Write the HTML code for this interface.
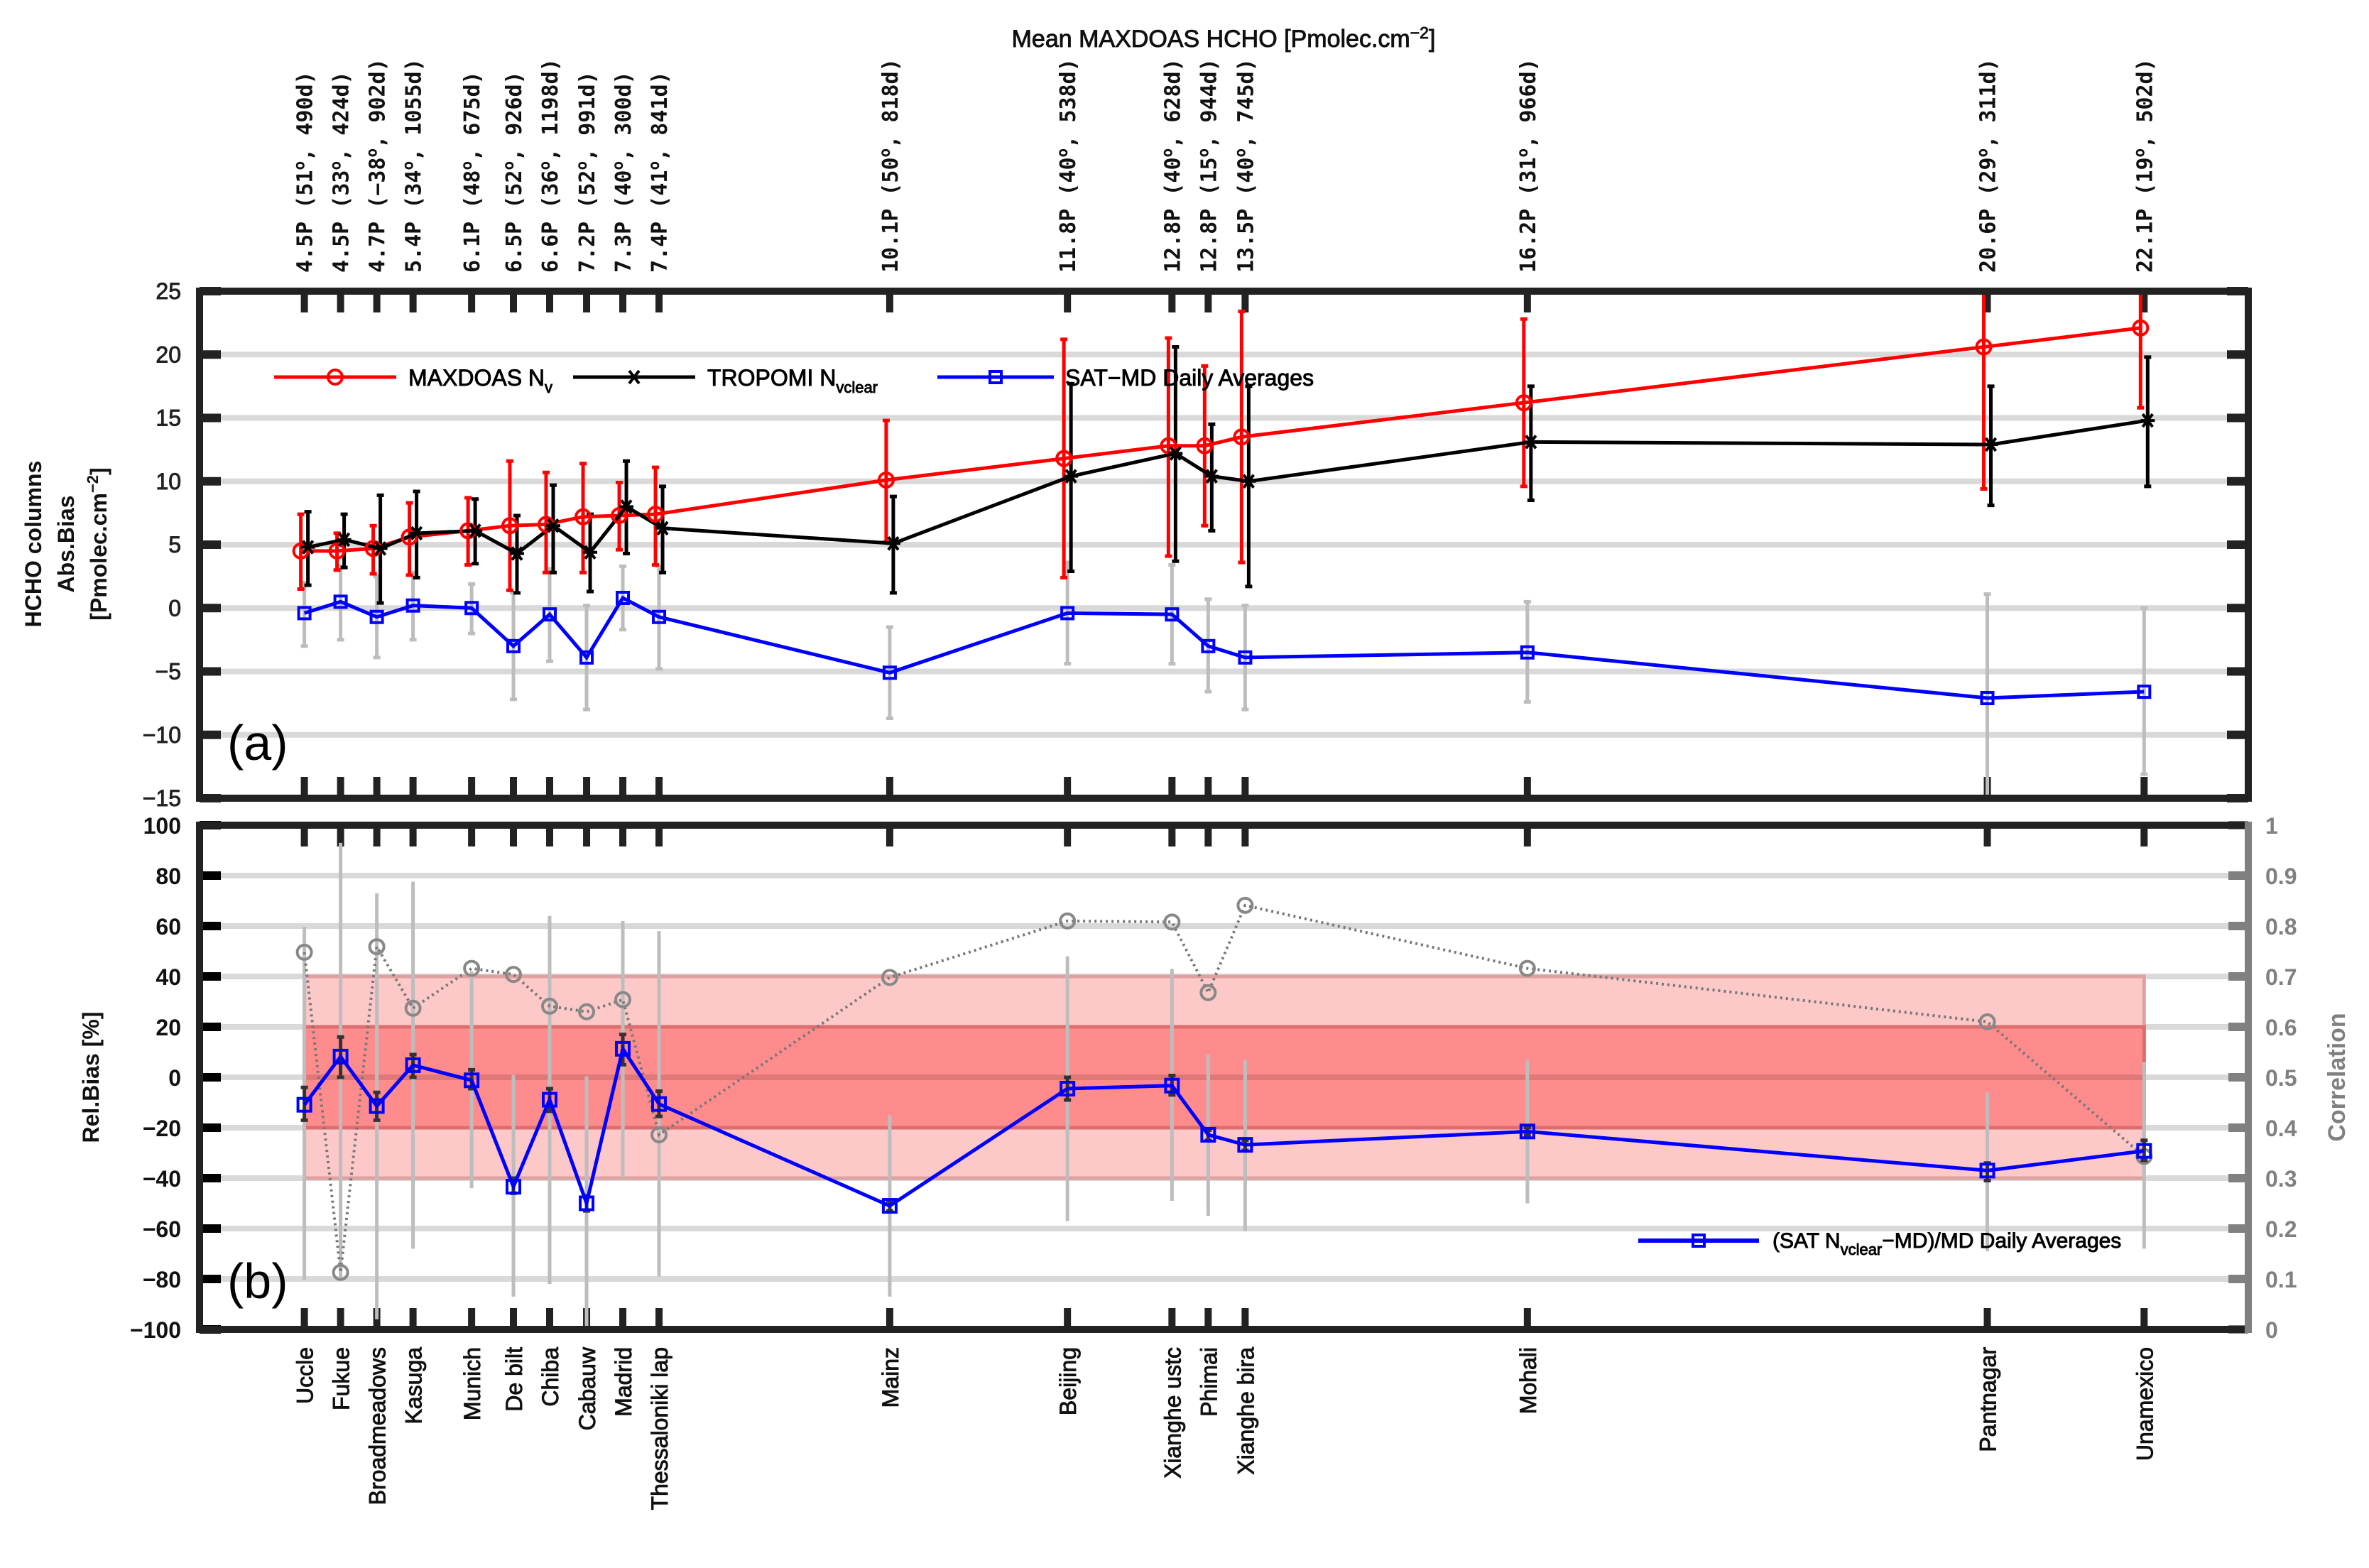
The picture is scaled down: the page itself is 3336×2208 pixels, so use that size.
<!DOCTYPE html>
<html><head><meta charset="utf-8"><style>
html,body{margin:0;padding:0;background:#fff;}
svg{display:block;}
text{font-family:"Liberation Sans","DejaVu Sans",sans-serif;}
.mono{font-family:"DejaVu Sans Mono","Liberation Mono",monospace;}
.thick{stroke:currentColor;stroke-width:0.9px;}
</style></head><body>
<svg id="chart" xmlns="http://www.w3.org/2000/svg" width="3336" height="2208" viewBox="0 0 3336 2208">
<defs>
<clipPath id="clipA"><rect x="281" y="410" width="2885" height="714"/></clipPath>
<clipPath id="clipB"><rect x="281" y="1162" width="2885" height="710"/></clipPath>
</defs>
<rect x="0" y="0" width="3336" height="2208" fill="#fff"/>
<g id="gA"></g>
<g id="gB"></g>
<g id="gT"></g>
</svg>
<script>
const stations=["Uccle","Fukue","Broadmeadows","Kasuga","Munich","De bilt","Chiba","Cabauw","Madrid","Thessaloniki lap","Mainz","Beijing","Xianghe ustc","Phimai","Xianghe bira","Mohali","Pantnagar","Unamexico"];
const meanMD=[4.5,4.5,4.7,5.4,6.1,6.5,6.6,7.2,7.3,7.4,10.1,11.8,12.8,12.8,13.5,16.2,20.6,22.1];
const lat=["51","33","\u221238","34","48","52","36","52","40","41","50","40","40","15","40","31","29","19"];
const days=["490","424","902","1055","675","926","1198","991","300","841","818","538","628","944","745","966","311","502"];
const mdVal=[4.5,4.5,4.7,5.6,6.1,6.5,6.6,7.2,7.3,7.4,10.1,11.8,12.8,12.8,13.5,16.2,20.6,22.1];
const mdLo=[1.5,3.0,2.7,2.6,3.4,1.4,2.8,2.8,4.6,3.4,5.2,2.4,4.1,6.5,3.6,9.6,9.4,15.8];
const mdHi=[7.4,5.9,6.5,8.3,8.7,11.6,10.7,11.4,9.9,11.1,14.8,21.2,21.3,19.1,23.4,22.8,31.8,28.4];
const trVal=[4.8,5.4,4.7,5.9,6.1,4.3,6.5,4.4,8.0,6.3,5.1,10.4,12.2,10.4,10.0,13.1,12.9,14.8];
const trLo=[1.8,3.2,0.4,2.4,3.5,1.2,2.8,1.3,4.3,2.8,1.2,2.9,3.7,6.1,1.7,8.5,8.1,9.6];
const trHi=[7.6,7.4,8.9,9.2,8.6,7.3,9.7,7.4,11.6,9.6,8.8,17.7,20.6,14.5,17.5,17.5,17.5,19.8];
const absBias=[-0.4,0.5,-0.7,0.2,0.0,-3.0,-0.5,-3.9,0.8,-0.7,-5.1,-0.4,-0.5,-3.0,-3.9,-3.5,-7.1,-6.6];
const abLo=[-3.0,-2.5,-3.9,-2.5,-2.0,-7.2,-4.2,-8.0,-1.7,-4.8,-8.7,-4.4,-4.4,-6.6,-8.0,-7.4,-14.9,-13.1];
const abHi=[2.0,3.3,2.5,2.8,1.9,1.2,3.1,0.2,3.3,3.3,-1.5,3.6,3.4,0.7,0.2,0.5,1.1,0.0];
const relBias=[-10.9,8.2,-11.4,4.8,-1.2,-43.4,-8.9,-50,11.3,-10.6,-51,-4.5,-3.3,-22.8,-26.8,-21.5,-37,-29.2];
const relLo=[-17,0,-17,0,-4.5,-46,-13.5,-53,5,-15.5,-53,-9,-7,-25,-29,-23,-41,-33];
const relHi=[-4,16,-6,9,3,-40,-4.5,-47,17,-5.5,-49,0,0.7,-21,-25,-20,-34,-25];
const relErrLo=[-80.5,-80,-96,-68,-44,-87,-82,-100,-40,-79,-87,-57,-49,-55,-61,-50,-69,-68];
const relErrHi=[59.7,93,73,77.6,42,1,64,0.4,62,58,-15,48,43,9,7,7,-6,6];
const corr=[0.748,0.113,0.759,0.637,0.716,0.704,0.641,0.63,0.654,0.386,0.698,0.81,0.808,0.668,0.841,0.716,0.61,0.343];
const ticksA=[25,20,15,10,5,0,-5,-10,-15];
const ticksB=[100,80,60,40,20,0,-20,-40,-60,-80,-100];
const ticksC=[1,0.9,0.8,0.7,0.6,0.5,0.4,0.3,0.2,0.1,0];
const tickLabelsC=["1","0.9","0.8","0.7","0.6","0.5","0.4","0.3","0.2","0.1","0"];

const NS="http://www.w3.org/2000/svg";
const L=281,R=3166,AT=410,AB=1124,BT=1162,BB=1872;
function xScale(v){return 428.6+(v-4.5)*147.2;}
function ya(v){return AT+(25-v)*(AB-AT)/40;}
function yb(v){return BT+(100-v)*(BB-BT)/200;}
function yc(c){return yb(c*200-100);}
const px=[];
meanMD.forEach((v,i)=>{let p=xScale(v);if(i>0)p=Math.max(p,px[i-1]+51);px.push(p);});

function mk(tag,attrs,parent){const e=document.createElementNS(NS,tag);for(const k in attrs)e.setAttribute(k,attrs[k]);parent.appendChild(e);return e;}
const gA=document.getElementById('gA'),gB=document.getElementById('gB'),gT=document.getElementById('gT');

// ---------- panel A ----------
ticksA.forEach(t=>{
  if(t<25&&t>-15){const g=mk('line',{x1:L,x2:R,y1:ya(t),y2:ya(t),stroke:'#d9d9d9','stroke-width':8},gA);
  
  }
  const tk=mk('path',{d:`M${L} ${ya(t)}h30M${R} ${ya(t)}h-30`,stroke:'#222','stroke-width':12},gA);
  
  
  const tl=mk('text',{x:255,y:ya(t)+11,'text-anchor':'end','font-size':32,fill:'#222',class:'thick',color:'#222'},gA);
  tl.textContent=t<0?'\u2212'+(-t):String(t);
  
  
});
px.forEach(x=>{
  const t=mk('path',{d:`M${x} ${AT}v30M${x} ${AB}v-30M${x} ${BT}v30M${x} ${BB}v-30`,stroke:'#222','stroke-width':10},gA);
  
  
});
const cA=mk('g',{'clip-path':'url(#clipA)'},gA);


function errbar(parent,x,y1,y2,color,w,cap,name){
  const e=mk('path',{d:`M${x} ${y1}V${y2}`+(cap?`M${x-cap} ${y1}h${2*cap}M${x-cap} ${y2}h${2*cap}`:''),stroke:color,'stroke-width':w,fill:'none'},parent);
  
  
}
px.forEach((x,i)=>errbar(cA,x,ya(abLo[i]),ya(abHi[i]),'#bdbdbd',5,5,'abs-bias-error'));
px.forEach((x,i)=>errbar(cA,x-5,ya(mdLo[i]),ya(mdHi[i]),'#f00',5,5,'maxdoas-error'));
px.forEach((x,i)=>errbar(cA,x+5,ya(trLo[i]),ya(trHi[i]),'#000',5,5,'tropomi-error'));
const redLine=mk('polyline',{points:px.map((x,i)=>`${x-5},${ya(mdVal[i])}`).join(' '),fill:'none',stroke:'#f00','stroke-width':5},cA);


const blkLine=mk('polyline',{points:px.map((x,i)=>`${x+5},${ya(trVal[i])}`).join(' '),fill:'none',stroke:'#000','stroke-width':5},cA);


const bluLine=mk('polyline',{points:px.map((x,i)=>`${x},${ya(absBias[i])}`).join(' '),fill:'none',stroke:'#00f','stroke-width':5},cA);


function star(parent,x,y,name){
  const s=mk('path',{d:`M${x-10} ${y}h20M${x-7} ${y-9}l14 18M${x+7} ${y-9}l-14 18`,stroke:'#000','stroke-width':4},parent);
  
  
}
px.forEach((x,i)=>{
  const c=mk('circle',{cx:x-5,cy:ya(mdVal[i]),r:10,fill:'none',stroke:'#f00','stroke-width':4},cA);
  
  
  star(cA,x+5,ya(trVal[i]),'tropomi-point');
  const q=mk('rect',{x:x-8,y:ya(absBias[i])-8,width:16,height:16,fill:'none',stroke:'#00f','stroke-width':4},cA);
  
  
});
const boxA=mk('rect',{x:L,y:AT,width:R-L,height:AB-AT,fill:'none',stroke:'#222','stroke-width':10},gA);



const lgA=mk('g',{},gA);


mk('line',{x1:386,x2:558,y1:531,y2:531,stroke:'#f00','stroke-width':5},lgA);
mk('circle',{cx:472,cy:531,r:10,fill:'none',stroke:'#f00','stroke-width':4},lgA);
const t1=mk('text',{x:575,y:543,'font-size':32,fill:'#000',class:'thick',color:'#000'},lgA);
t1.innerHTML='MAXDOAS N<tspan font-size="22" dy="10">v</tspan>';
mk('line',{x1:807,x2:979,y1:531,y2:531,stroke:'#000','stroke-width':5},lgA);
star(lgA,893,531,'legend-tropomi-marker');
const t2=mk('text',{x:996,y:543,'font-size':32,fill:'#000',class:'thick',color:'#000'},lgA);
t2.innerHTML='TROPOMI N<tspan font-size="22" dy="10">vclear</tspan>';
mk('line',{x1:1320,x2:1484,y1:531,y2:531,stroke:'#00f','stroke-width':5},lgA);
mk('rect',{x:1394,y:523,width:16,height:16,fill:'none',stroke:'#00f','stroke-width':4},lgA);
const t3=mk('text',{x:1500,y:543,'font-size':32,fill:'#000',class:'thick',color:'#000'},lgA);
t3.textContent='SAT\u2212MD Daily Averages';
const la=mk('text',{x:320,y:1070,'font-size':70,fill:'#000'},gA);
la.textContent='(a)';



// ---------- panel B ----------
const cB=mk('g',{'clip-path':'url(#clipB)'},gB);


ticksB.forEach(t=>{
  if(t<100&&t>-100){const g=mk('line',{x1:L,x2:R,y1:yb(t),y2:yb(t),stroke:'#d9d9d9','stroke-width':8},cB);
  
  }
  const tk=mk('path',{d:`M${L} ${yb(t)}h30`,stroke:'#000','stroke-width':12},gB);
  
  
  const tl=mk('text',{x:255,y:yb(t)+12,'text-anchor':'end','font-size':32,'font-weight':'bold',fill:'#111'},gB);
  tl.textContent=t<0?'\u2212'+(-t):String(t);
  
  
});
ticksC.forEach((c,i)=>{
  const tk=mk('path',{d:`M${R} ${yc(c)}h-28`,stroke:'#808080','stroke-width':12},gB);
  
  
  const tl=mk('text',{x:3190,y:yc(c)+12,'font-size':32,'font-weight':'bold',fill:'#808080'},gB);
  tl.textContent=tickLabelsC[i];
  
  
});
const x0=px[0],x1=px[px.length-1];
const bL=mk('rect',{x:x0,y:yb(40),width:x1-x0,height:yb(-40)-yb(40),fill:'rgb(252,200,200)',stroke:'rgb(225,160,160)','stroke-width':5},cB);


const bD=mk('rect',{x:x0,y:yb(20),width:x1-x0,height:yb(-20)-yb(20),fill:'rgb(255,140,140)',stroke:'rgb(220,110,110)','stroke-width':5},cB);


const z0=mk('line',{x1:x0,x2:x1,y1:yb(0),y2:yb(0),stroke:'rgb(225,120,120)','stroke-width':8},cB);


px.forEach((x,i)=>errbar(cB,x,yb(relErrLo[i]),yb(relErrHi[i]),'#bdbdbd',5,0,'rel-bias-spread'));
const cl=mk('polyline',{points:px.map((x,i)=>`${x},${yc(corr[i])}`).join(' '),fill:'none',stroke:'#777','stroke-width':4,'stroke-dasharray':'3 5'},cB);


px.forEach((x,i)=>{
  const c=mk('circle',{cx:x,cy:yc(corr[i]),r:10,fill:'none',stroke:'#888','stroke-width':4},cB);
  
  
});
px.forEach((x,i)=>errbar(cB,x,yb(relLo[i]),yb(relHi[i]),'#333',5,5,'rel-bias-error'));
const rl=mk('polyline',{points:px.map((x,i)=>`${x},${yb(relBias[i])}`).join(' '),fill:'none',stroke:'#00f','stroke-width':5},cB);


px.forEach((x,i)=>{
  const q=mk('rect',{x:x-9,y:yb(relBias[i])-9,width:18,height:18,fill:'none',stroke:'#00f','stroke-width':4},cB);
  
  
});
const fb=mk('path',{d:`M${R} ${BT}H${L}V${BB}H${R}`,fill:'none',stroke:'#222','stroke-width':10},gB);


const fr=mk('line',{x1:R,x2:R,y1:BT-5,y2:BB+5,stroke:'#808080','stroke-width':10},gB);


const lgB=mk('g',{},gB);


mk('line',{x1:2307,x2:2477,y1:1747,y2:1747,stroke:'#00f','stroke-width':6},lgB);
mk('rect',{x:2384,y:1739,width:16,height:16,fill:'none',stroke:'#00f','stroke-width':4},lgB);
const t4=mk('text',{x:2496,y:1757,'font-size':30,fill:'#000',class:'thick',color:'#000'},lgB);
t4.innerHTML='(SAT N<tspan font-size="22" dy="10">vclear</tspan><tspan dy="-10">\u2212MD)/MD Daily Averages</tspan>';
const lb=mk('text',{x:320,y:1828,'font-size':70,fill:'#000'},gB);
lb.textContent='(b)';



// ---------- labels ----------
px.forEach((x,i)=>{
  const t=mk('text',{x:0,y:0,'font-size':30,'font-weight':'bold',fill:'#111',class:'mono',transform:`translate(${x+11},384) rotate(-90)`},gT);
  t.innerHTML=`${meanMD[i].toFixed(1)}P (${lat[i]}<tspan font-size="21" dy="-11">o</tspan><tspan dy="11">, ${days[i]}d)</tspan>`;
  
  
  const b=mk('text',{x:0,y:0,'font-size':32,fill:'#111','text-anchor':'end',class:'thick',color:'#111',transform:`translate(${x+12},1897) rotate(-90)`},gT);
  b.textContent=stations[i];
  
  
});
const tt=mk('text',{x:1723,y:66,'font-size':34,'text-anchor':'middle',fill:'#111',class:'thick',color:'#111'},gT);
tt.innerHTML='Mean MAXDOAS HCHO [Pmolec.cm<tspan font-size="23" dy="-12">\u22122</tspan><tspan dy="12">]</tspan>';


const ya1=mk('text',{x:0,y:0,'font-size':32,'font-weight':'bold','text-anchor':'middle',fill:'#111',transform:'translate(0,766) rotate(-90)'},gT);
ya1.innerHTML='<tspan x="0" y="58">HCHO columns</tspan><tspan x="0" y="104">Abs.Bias</tspan><tspan x="0" y="150">[Pmolec.cm<tspan font-size="22" dy="-12">\u22122</tspan><tspan dy="12">]</tspan></tspan>';


const yb1=mk('text',{x:0,y:0,'font-size':32,'font-weight':'bold','text-anchor':'middle',fill:'#111',transform:'translate(139,1517) rotate(-90)'},gT);
yb1.textContent='Rel.Bias [%]';


const yr=mk('text',{x:0,y:0,'font-size':34,'font-weight':'bold','text-anchor':'middle',fill:'#808080',transform:'translate(3302,1517) rotate(-90)'},gT);
yr.textContent='Correlation';


</script>
</body></html>
